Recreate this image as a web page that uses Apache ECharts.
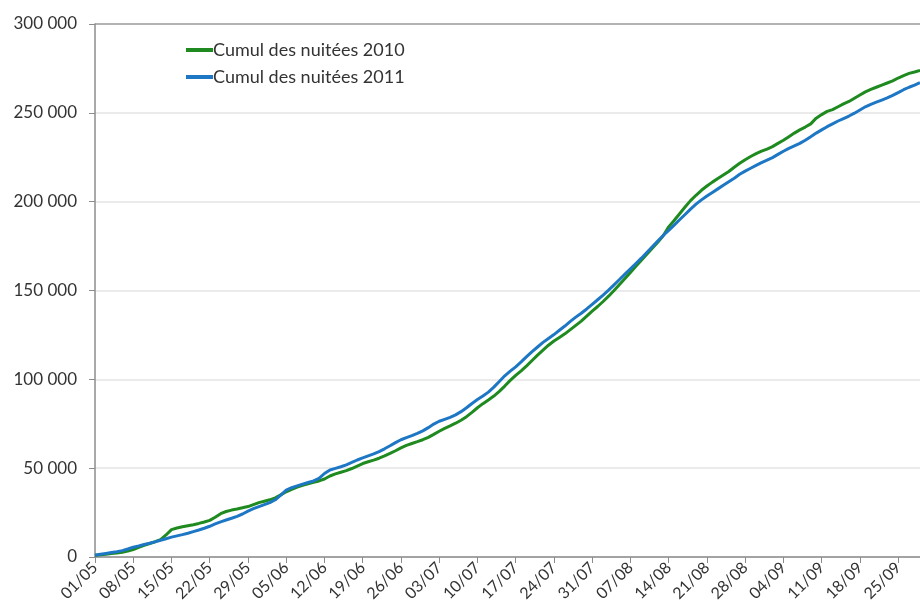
<!DOCTYPE html>
<html>
<head>
<meta charset="utf-8">
<script src="https://cdn.jsdelivr.net/npm/echarts@6/dist/echarts.min.js"></script>
<style>
html,body{margin:0;padding:0;background:#fff;}
#chart{width:920px;height:612px;}
</style>
</head>
<body>
<div id="chart"></div>
<script>
// Category months: [month label, number of days shown]
const monthSpans = [['05', 31], ['06', 30], ['07', 31], ['08', 31], ['09', 29]];
const categories = [];
monthSpans.forEach(function (m) {
  for (let d = 1; d <= m[1]; d++) categories.push((d < 10 ? '0' + d : '' + d) + '/' + m[0]);
});

const seriesNames = ['Cumul des nuitées 2010', 'Cumul des nuitées 2011'];

const nuitees2010 = [
  1000, 1300, 1600, 2000, 2300, 2700, 3300, 4200, 5400, 6500,
  7600, 8600, 9800, 12400, 15400, 16300, 17000, 17600, 18200, 18900,
  19700, 20600, 22400, 24400, 25600, 26400, 27000, 27700, 28400, 29500,
  30600, 31400, 32200, 33300, 35000, 36700, 38000, 39300, 40400, 41200,
  42000, 42800, 43900, 45600, 46800, 47700, 48600, 49800, 51200, 52600,
  53600, 54500, 55600, 56900, 58300, 59800, 61400, 62800, 63900, 64900,
  66000, 67300, 69000, 70800, 72400, 73800, 75300, 77000, 79000, 81400,
  84000, 86300, 88400, 90600, 93200, 96200, 99400, 102200, 104800, 107600,
  110600, 113600, 116400, 119200, 121600, 123600, 125600, 128000, 130400, 132800,
  135600, 138400, 141000, 143800, 146800, 150000, 153400, 156800, 160200, 163600,
  167000, 170400, 173800, 177200, 180800, 185800, 189400, 193200, 197000, 200600,
  203600, 206400, 208800, 211000, 213000, 215000, 217000, 219400, 221600, 223600,
  225400, 227000, 228400, 229600, 231000, 232800, 234600, 236600, 238600, 240400,
  242000, 243800, 247000, 249000, 250800, 251800, 253400, 255000, 256400, 258200,
  260000, 261800, 263200, 264400, 265600, 266800, 268000, 269600, 271000, 272200,
  273000, 273900
];

const nuitees2011 = [
  1000, 1500, 2000, 2500, 3000, 3600, 4500, 5500, 6200, 7000,
  7700, 8500, 9400, 10300, 11200, 11900, 12600, 13400, 14300, 15200,
  16200, 17300, 18600, 19800, 20800, 21800, 22900, 24200, 25800, 27200,
  28400, 29500, 30600, 32200, 34800, 37600, 39000, 40000, 41000, 41900,
  42800, 44200, 47000, 49000, 49900, 50800, 51900, 53200, 54600, 55800,
  56900, 58000, 59300, 60900, 62600, 64400, 66000, 67200, 68300, 69600,
  71000, 72800, 74800, 76400, 77500, 78600, 80000, 81800, 84000, 86400,
  88600, 90600, 92800, 95600, 98800, 102000, 104600, 107000, 109800, 112800,
  115600, 118200, 120800, 123000, 125200, 127600, 130000, 132600, 135000, 137200,
  139600, 142200, 144800, 147400, 150200, 153200, 156200, 159200, 162200, 165200,
  168200, 171400, 174600, 177800, 181000, 183800, 186800, 189800, 192800, 195800,
  198600, 201000, 203200, 205200, 207200, 209200, 211200, 213200, 215400, 217200,
  218800, 220400, 222000, 223400, 224800, 226600, 228400, 230000, 231400, 232800,
  234600, 236600, 238600, 240400, 242200, 243800, 245400, 246800, 248200, 249800,
  251600, 253400, 254800, 256000, 257200, 258400, 259800, 261400, 263000, 264400,
  265600, 267000
];

const yTicks = { min: 0, max: 300000, interval: 50000 };

function fmt(v) {
  return String(v).replace(/\B(?=(\d{3})+(?!\d))/g, ' ');
}

const chart = echarts.init(document.getElementById('chart'), null, { renderer: 'canvas' });
const font = 'Lato, "Open Sans", "DejaVu Sans", sans-serif';

chart.setOption({
  animation: false,
  backgroundColor: '#ffffff',
  grid: { left: 95, right: 0, top: 24, bottom: 55, containLabel: false },
  legend: {
    orient: 'vertical',
    left: 181,
    top: 36,
    itemGap: 9,
    itemWidth: 27,
    itemHeight: 4,
    icon: 'rect',
    textStyle: { fontFamily: font, fontSize: 18, color: '#333', padding: [0, 0, 0, -5] },
    data: seriesNames
  },
  xAxis: {
    type: 'category',
    data: categories,
    boundaryGap: false,
    axisLine: { lineStyle: { color: '#8c8c8c', width: 1.5 } },
    axisTick: { show: true, interval: 6, length: 6, lineStyle: { color: '#8c8c8c' } },
    axisLabel: {
      interval: 6,
      rotate: 45,
      fontFamily: font,
      fontSize: 16,
      color: '#333',
      margin: 8
    },
    splitLine: { show: false }
  },
  yAxis: {
    type: 'value',
    min: yTicks.min,
    max: yTicks.max,
    interval: yTicks.interval,
    axisLine: { show: true, lineStyle: { color: '#8c8c8c', width: 1.5 } },
    axisTick: { show: true, length: 6, lineStyle: { color: '#8c8c8c' } },
    axisLabel: {
      formatter: fmt,
      fontFamily: font,
      fontSize: 17,
      color: '#333',
      margin: 18
    },
    splitLine: {
      show: true,
      lineStyle: {
        color: ['#e4e4e4', '#e4e4e4', '#e4e4e4', '#e4e4e4', '#e4e4e4', '#e4e4e4', '#9a9a9a'],
        width: 1.5
      }
    }
  },
  series: [
    {
      name: seriesNames[0],
      type: 'line',
      data: nuitees2010,
      showSymbol: false,
      symbol: 'none',
      smooth: false,
      lineStyle: { color: '#1f8a1f', width: 3 },
      itemStyle: { color: '#1f8a1f' }
    },
    {
      name: seriesNames[1],
      type: 'line',
      data: nuitees2011,
      showSymbol: false,
      symbol: 'none',
      smooth: false,
      lineStyle: { color: '#1d77c4', width: 3 },
      itemStyle: { color: '#1d77c4' }
    }
  ]
});
</script>
</body>
</html>
